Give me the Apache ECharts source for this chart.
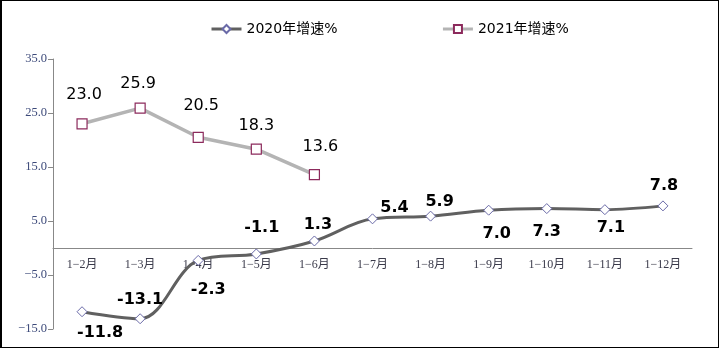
<!DOCTYPE html>
<html>
<head>
<meta charset="utf-8">
<script src="https://cdn.jsdelivr.net/npm/echarts@6/dist/echarts.min.js"></script>
<style>
html,body{margin:0;padding:0;background:#fff;}
#wrap{position:relative;width:719px;height:348px;}
#chart{width:719px;height:348px;}
#frame{position:absolute;left:0;top:0;width:719px;height:348px;box-sizing:border-box;border:1px solid #000;border-left-width:2px;pointer-events:none;}
</style>
</head>
<body>
<div id="wrap"><div id="chart"></div><div id="frame"></div></div>
<script>
const categories = ['1-2月','1-3月','1-4月','1-5月','1-6月','1-7月','1-8月','1-9月','1-10月','1-11月','1-12月'];
const growth2020 = [-11.8, -13.1, -2.3, -1.1, 1.3, 5.4, 5.9, 7.0, 7.3, 7.1, 7.8];
const growth2021 = [23.0, 25.9, 20.5, 18.3, 13.6];
const seriesNames = ['2020年增速%', '2021年增速%'];
const yTicks = { min: -15, max: 35, step: 10 };

// label placement (styling only)
const labelOffsets2020 = [[18,21],[0,-19],[10,29],[5.5,-26],[3.5,-16],[22,-11],[9,-14],[8,24],[0,23],[6,18],[1,-20]];
const labelOffsets2021 = [[2,-29],[-2,-24],[3,-31],[0,-23],[6,-28]];

const W = 719, H = 348;
const grid = { left: 53, right: 27, top: 59, bottom: 19 };
const gridH = H - grid.top - grid.bottom;
// move the category axis (line + labels) up to the value 0
const zeroOffset = -((0 - yTicks.min) / (yTicks.max - yTicks.min)) * gridH;

const chart = echarts.init(document.getElementById('chart'), null, {renderer:'canvas', width: W, height: H});
const fmt = v => (v < 0 ? '\u2212' : '') + Math.abs(v).toFixed(1);

chart.setOption({
  animation: false,
  backgroundColor: '#fff',
  legend: {
    top: 17, left: 205,
    itemWidth: 30, itemHeight: 10, itemGap: 104,
    lineStyle: { width: 3 },
    textStyle: { fontFamily: 'DejaVu Sans, Noto Sans CJK SC', fontSize: 14, color: '#000' },
    data: seriesNames
  },
  grid: Object.assign({ containLabel: false, outerBoundsMode: 'none' }, grid),
  xAxis: {
    type: 'category',
    data: categories,
    boundaryGap: true,
    offset: zeroOffset,
    axisLine: { onZero: false, lineStyle: { color: '#888', width: 1 } },
    axisTick: { show: false },
    axisLabel: {
      margin: 11,
      fontFamily: 'Liberation Serif, Noto Sans CJK SC',
      fontSize: 12, color: '#3a3a4a',
      formatter: s => s.replace('-', '\u2212')
    },
    splitLine: { show: false }
  },
  yAxis: {
    type: 'value',
    min: yTicks.min, max: yTicks.max, interval: yTicks.step,
    axisLine: { show: true, lineStyle: { color: '#888', width: 1 } },
    axisTick: { show: true, length: 5, inside: false, lineStyle: { color: '#888' } },
    axisLabel: {
      margin: 6, fontFamily: 'Liberation Serif', fontSize: 12.5, color: '#3d4a7a',
      formatter: fmt
    },
    splitLine: { show: false }
  },
  series: [
    {
      name: seriesNames[0],
      type: 'line',
      smooth: 0.35,
      data: growth2020.map((v, i) => ({
        value: v,
        label: { offset: labelOffsets2020[i] }
      })),
      symbol: 'diamond',
      symbolSize: 10,
      lineStyle: { color: '#606060', width: 3 },
      itemStyle: { color: '#fff', borderColor: '#6a6aa8', borderWidth: 1 },
      label: {
        show: true, position: 'inside',
        fontFamily: 'DejaVu Sans', fontWeight: 'bold', fontSize: 16, color: '#000',
        formatter: p => p.value.toFixed(1)
      },
      z: 3
    },
    {
      name: seriesNames[1],
      type: 'line',
      smooth: false,
      data: growth2021.map((v, i) => ({
        value: v,
        label: { offset: labelOffsets2021[i] }
      })),
      symbol: 'rect',
      symbolSize: 10,
      lineStyle: { color: '#b4b4b4', width: 3.5 },
      itemStyle: { color: '#fff', borderColor: '#8c2a5c', borderWidth: 1.2 },
      label: {
        show: true, position: 'inside',
        fontFamily: 'DejaVu Sans', fontSize: 16, color: '#000',
        formatter: p => p.value.toFixed(1)
      },
      z: 2
    }
  ]
});
</script>
</body>
</html>
